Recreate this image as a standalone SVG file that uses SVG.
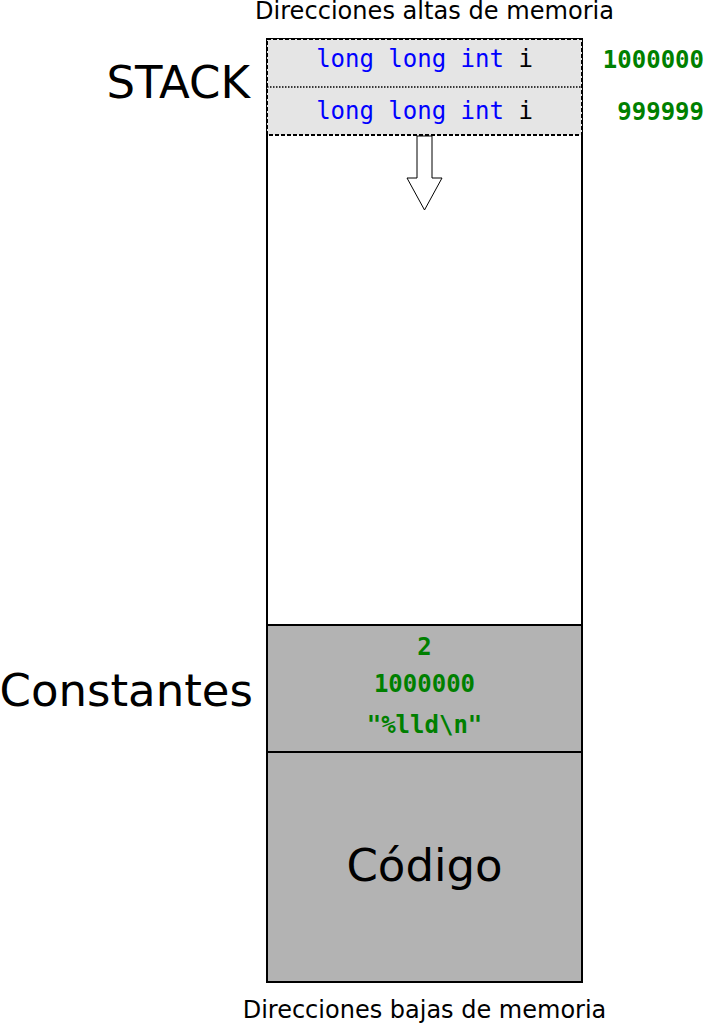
<svg xmlns="http://www.w3.org/2000/svg" width="704" height="1024" viewBox="0 0 704 1024">
<style>
.lbl{font-family:"DejaVu Sans",sans-serif;fill:#000}
.big{font-size:45px}
.mono{font-family:"DejaVu Sans Mono",monospace;font-size:24px}
.kw{fill:#0000ff}
.val{font-family:"DejaVu Sans Mono",monospace;font-size:24px;font-weight:bold;fill:#008000}
</style>
<rect width="704" height="1024" fill="#fff"/>
<text class="lbl" x="434.5" y="19" font-size="24" text-anchor="middle" textLength="359" lengthAdjust="spacingAndGlyphs">Direcciones altas de memoria</text>
<text class="lbl" x="424.5" y="1018" font-size="24" text-anchor="middle">Direcciones bajas de memoria</text>
<g id="memory">
<rect x="267" y="39" width="315" height="943" fill="#fff" stroke="#000" stroke-width="2"/>
</g>
<g id="stack">
<rect x="267" y="39" width="315" height="96" fill="#e5e5e5" stroke="#000" stroke-width="2" stroke-dasharray="4,2"/>
<line x1="267" y1="87" x2="582" y2="87" stroke="#000" stroke-width="1.5" stroke-dasharray="1.5,1.5"/>
<text class="mono" x="424.5" y="67" text-anchor="middle"><tspan class="kw">long long int</tspan> i</text>
<text class="mono" x="424.5" y="119" text-anchor="middle"><tspan class="kw">long long int</tspan> i</text>
<text class="val" x="704" y="68" text-anchor="end">1000000</text>
<text class="val" x="704" y="120" text-anchor="end">999999</text>
<text class="lbl big" x="250" y="98" text-anchor="end">STACK</text>
</g>
<g id="arrow">
<path d="M417,136 L432,136 L432,178 L442,178 L424.5,210 L407,178 L417,178 Z" fill="#fff" stroke="#000" stroke-width="1"/>
</g>
<g id="constantes">
<rect x="267" y="625" width="315" height="127" fill="#b3b3b3" stroke="#000" stroke-width="2"/>
<text class="val" x="424.5" y="655" text-anchor="middle">2</text>
<text class="val" x="424.5" y="692" text-anchor="middle">1000000</text>
<text class="val" x="424.5" y="733" text-anchor="middle">"%lld\n"</text>
<text class="lbl big" x="253" y="706" text-anchor="end">Constantes</text>
</g>
<g id="codigo">
<rect x="267" y="752" width="315" height="230" fill="#b3b3b3" stroke="#000" stroke-width="2"/>
<text class="lbl big" x="424.5" y="881" text-anchor="middle">Código</text>
</g>
</svg>
